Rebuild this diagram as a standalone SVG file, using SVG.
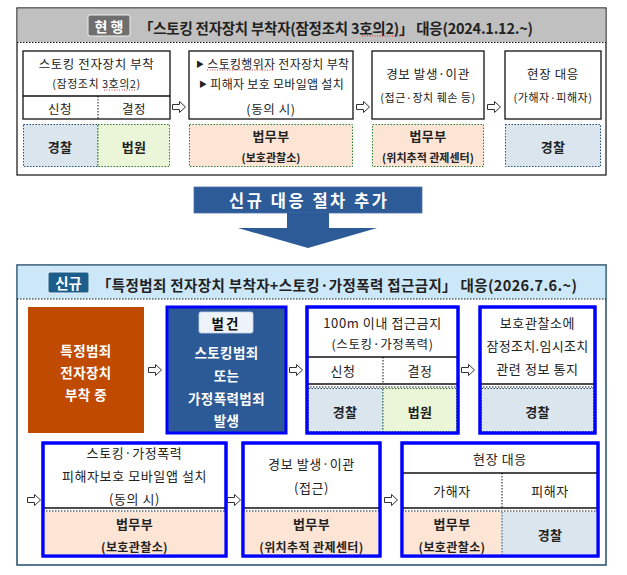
<svg xmlns="http://www.w3.org/2000/svg" width="627" height="575" viewBox="0 0 627 575">
<defs>
<style>
text{font-family:"Noto Sans CJK KR","Noto Sans",sans-serif;fill:#222;dominant-baseline:central;text-anchor:middle}
.t{font-size:12.5px;letter-spacing:0.6px}
.s{font-size:11px;letter-spacing:0.5px}
.b{font-size:13px;font-weight:bold;letter-spacing:0.4px}
.bs{font-size:11px;font-weight:bold}
.w{fill:#fff;font-weight:bold;font-size:13.5px;letter-spacing:0.4px}
.box{fill:#fff;stroke:#111;stroke-width:1.3}
.nbox{fill:#fff;stroke:#0000ff;stroke-width:3}
.ln{stroke:#111;stroke-width:1.3}
.dl{stroke:#111;stroke-width:1;stroke-dasharray:1.5,1.5}
.blue{fill:#dae5ee}
.green{fill:#ebf5d8}
.peach{fill:#fde5d6}
.cb{stroke:#1f4e79;stroke-width:1;stroke-dasharray:1.5,1.5}
.cg{stroke:#2a7a2a;stroke-width:1;stroke-dasharray:1.5,1.5}
.arr{fill:#fff;stroke:#333;stroke-width:1}
.sq{stroke:#e03030;stroke-width:1;stroke-dasharray:1,1.5;fill:none}
</style>
<path id="ar" d="M-6.5,-2.5 H0.5 V-5.5 L6.5,0 L0.5,5.5 V2.5 H-6.5 Z"/>
</defs>

<!-- TOP SECTION -->
<g id="current">
<rect x="17" y="8" width="589" height="167" fill="#fff" stroke="#222" stroke-width="1.3"/>
<rect x="17.6" y="8.6" width="587.8" height="33.4" fill="#c0c0c0"/>
<line x1="17" y1="42.5" x2="606" y2="42.5" class="dl"/>
<rect x="88" y="15" width="42" height="21" rx="2" fill="#6f6f6f" stroke="#eee" stroke-width="1"/>
<text x="109" y="25.5" style="fill:#fff;font-weight:bold;font-size:14px">현 행</text>
<text x="336" y="27" style="font-weight:bold;font-size:14.5px" textLength="394" lengthAdjust="spacing">「스토킹 전자장치 부착자(잠정조치 3호의2)」 대응(2024.1.12.~)</text>
<path class="sq" d="M362,36 H404"/>
</g>

<g id="a1">
<rect x="23" y="51" width="147" height="68" class="box"/>
<line x1="23" y1="96" x2="170" y2="96" class="ln"/>
<line x1="98" y1="96" x2="98" y2="119" class="dl"/>
<text x="96.5" y="63" class="t">스토킹 전자장치 부착</text>
<text x="96.5" y="83" class="s">(잠정조치 3호의2)</text>
<path class="sq" d="M104,90 H136"/>
<text x="60" y="108" class="t">신청</text>
<text x="134" y="108" class="t">결정</text>
<rect x="23.5" y="124.5" width="74.5" height="42" class="blue cb"/>
<rect x="98" y="124.5" width="71.5" height="42" class="green cg"/>
<text x="60" y="146" class="b">경찰</text>
<text x="134" y="146" class="b">법원</text>
</g>

<g id="a2">
<rect x="189" y="51" width="164" height="68" class="box"/>
<text x="196" y="63" class="t" style="text-anchor:start;font-size:12px;letter-spacing:0.3px"><tspan style="font-size:8px">▶</tspan> 스토킹행위자 전자장치 부착</text>
<path class="sq" d="M207,70 H274"/>
<text x="199" y="83" class="t" style="text-anchor:start;font-size:12px;letter-spacing:0.3px"><tspan style="font-size:8px">▶</tspan> 피해자 보호 모바일앱 설치</text>
<text x="271" y="108" class="t">(동의 시)</text>
<rect x="189.5" y="124.5" width="163" height="42" class="peach cg"/>
<text x="271" y="135" class="b">법무부</text>
<text x="271" y="157" class="bs">(보호관찰소)</text>
</g>

<g id="a3">
<rect x="372" y="51" width="112" height="68" class="box"/>
<text x="428" y="73" class="t">경보 발생·이관</text>
<text x="428" y="97" class="s">(접근·장치 훼손 등)</text>
<rect x="372.5" y="124.5" width="111" height="42" class="peach cg"/>
<text x="428" y="135" class="b">법무부</text>
<text x="428" y="157" class="bs">(위치추적 관제센터)</text>
</g>

<g id="a4">
<rect x="505" y="51" width="96" height="68" class="box"/>
<text x="553" y="73" class="t">현장 대응</text>
<text x="553" y="97" class="s">(가해자·피해자)</text>
<rect x="505.5" y="124.5" width="95" height="42" class="blue cb"/>
<text x="553" y="146" class="b">경찰</text>
</g>

<!-- BANNER -->
<g id="banner">
<rect x="194" y="187" width="228" height="26" fill="#2c5b98" stroke="#4a74b0" stroke-width="0.8"/>
<text x="308" y="200" style="fill:#fff;font-weight:bold;font-size:16.5px" textLength="158" lengthAdjust="spacing">신규 대응 절차 추가</text>
<rect x="287" y="213" width="42" height="15" fill="#2c5b98"/>
<polygon points="238,228 377,228 308,248" fill="#2c5b98"/>
</g>

<!-- BOTTOM SECTION -->
<g id="new">
<rect x="17" y="265" width="589" height="300" fill="#fff" stroke="#1f4e6b" stroke-width="1.5"/>
<rect x="17.8" y="265.8" width="587.4" height="33" fill="#cce7f8"/>
<line x1="17" y1="299" x2="606" y2="299" class="dl"/>
<rect x="48" y="272" width="41" height="21" rx="2" fill="#1b5e8c" stroke="#e8f0f6" stroke-width="1"/>
<text x="68.5" y="282.5" style="fill:#fff;font-weight:bold;font-size:14.5px">신규</text>
<text x="337" y="284" style="font-weight:bold;font-size:14.5px" textLength="480" lengthAdjust="spacing">「특정범죄 전자장치 부착자+스토킹·가정폭력 접근금지」 대응(2026.7.6.~)</text>
</g>

<g id="b1">
<rect x="28" y="307" width="116" height="126" fill="#bf4a00"/>
<text x="86" y="350" class="w">특정범죄</text>
<text x="86" y="372" class="w">전자장치</text>
<text x="86" y="394" class="w">부착 중</text>
</g>

<g id="b2">
<rect x="167" y="307" width="119" height="126" fill="#2c5a96" stroke="#0000ff" stroke-width="3"/>
<rect x="199" y="312" width="54" height="21" rx="2" fill="#eef3fa" stroke="#c8d4e4" stroke-width="0.8"/>
<text x="226" y="322.5" style="font-weight:bold;font-size:13.5px;fill:#111;letter-spacing:2px">벌건</text>
<text x="226.5" y="352" class="w">스토킹범죄</text>
<text x="226.5" y="375" class="w">또는</text>
<text x="226.5" y="398" class="w">가정폭력범죄</text>
<text x="226.5" y="420" class="w">발생</text>
</g>

<g id="b3">
<rect x="307" y="307" width="151" height="126" class="nbox"/>
<text x="382.5" y="322" class="t" style="font-size:13px">100m 이내 접근금지</text>
<text x="382.5" y="343" class="t">(스토킹·가정폭력)</text>
<line x1="307" y1="357" x2="458" y2="357" class="ln"/>
<line x1="383" y1="357" x2="383" y2="384" class="dl"/>
<text x="343" y="370" class="t" style="font-size:13px">신청</text>
<text x="420" y="370" class="t" style="font-size:13px">결정</text>
<line x1="307" y1="384" x2="458" y2="384" class="ln"/>
<line x1="307" y1="387" x2="458" y2="387" class="dl"/>
<rect x="308.5" y="388.5" width="74.5" height="43" class="blue cb"/>
<rect x="383" y="388.5" width="73.5" height="43" class="green cg"/>
<text x="345" y="411" class="b">경찰</text>
<text x="420" y="411" class="b">법원</text>
<rect x="307" y="307" width="151" height="126" fill="none" stroke="#0000ff" stroke-width="3"/>
</g>

<g id="b4">
<rect x="480" y="307" width="115" height="126" class="nbox"/>
<text x="537.5" y="322" class="t" style="font-size:13px">보호관찰소에</text>
<text x="537.5" y="345" class="t" style="font-size:13px;letter-spacing:0.3px">잠정조치.임시조치</text>
<text x="537.5" y="368" class="t" style="font-size:13px">관련 정보 통지</text>
<line x1="480" y1="384" x2="595" y2="384" class="ln"/>
<line x1="480" y1="387" x2="595" y2="387" class="dl"/>
<rect x="481.5" y="388.5" width="112" height="43" class="blue cb"/>
<text x="537.5" y="411" class="b">경찰</text>
<rect x="480" y="307" width="115" height="126" fill="none" stroke="#0000ff" stroke-width="3"/>
</g>

<g id="b5">
<rect x="43" y="443" width="183" height="113" class="nbox"/>
<text x="134.5" y="452" class="t" style="font-size:13px">스토킹·가정폭력</text>
<text x="134.5" y="475" class="t" style="font-size:13px">피해자보호 모바일앱 설치</text>
<text x="134.5" y="498" class="t" style="font-size:13px">(동의 시)</text>
<line x1="43" y1="508" x2="226" y2="508" class="ln"/>
<line x1="43" y1="511" x2="226" y2="511" class="dl"/>
<rect x="44.5" y="512" width="180" height="42.5" class="peach"/>
<text x="134.5" y="523" class="b">법무부</text>
<text x="134.5" y="546" class="b" style="font-size:12px">(보호관찰소)</text>
<rect x="43" y="443" width="183" height="113" fill="none" stroke="#0000ff" stroke-width="3"/>
</g>

<g id="b6">
<rect x="243" y="443" width="137" height="113" class="nbox"/>
<text x="311.5" y="463" class="t" style="font-size:13px">경보 발생·이관</text>
<text x="311.5" y="487" class="t" style="font-size:13px">(접근)</text>
<line x1="243" y1="508" x2="380" y2="508" class="ln"/>
<line x1="243" y1="511" x2="380" y2="511" class="dl"/>
<rect x="244.5" y="512" width="134" height="42.5" class="peach"/>
<text x="311.5" y="523" class="b">법무부</text>
<text x="311.5" y="546" class="b" style="font-size:12px">(위치추적 관제센터)</text>
<rect x="243" y="443" width="137" height="113" fill="none" stroke="#0000ff" stroke-width="3"/>
</g>

<g id="b7">
<rect x="402" y="443" width="196" height="113" class="nbox"/>
<text x="500" y="458" class="t" style="font-size:13px">현장 대응</text>
<line x1="402" y1="473" x2="598" y2="473" class="ln"/>
<line x1="502" y1="473" x2="502" y2="508" class="dl"/>
<text x="452" y="490" class="t" style="font-size:13px">가해자</text>
<text x="550" y="490" class="t" style="font-size:13px">피해자</text>
<line x1="402" y1="508" x2="598" y2="508" class="ln"/>
<line x1="402" y1="511" x2="598" y2="511" class="dl"/>
<rect x="403.5" y="512" width="98.5" height="42.5" class="peach"/>
<rect x="502" y="512" width="94.5" height="42.5" class="blue"/>
<line x1="502" y1="512" x2="502" y2="555" class="cb"/>
<text x="452" y="523" class="b">법무부</text>
<text x="452" y="546" class="b" style="font-size:12px">(보호관찰소)</text>
<text x="550" y="534" class="b">경찰</text>
<rect x="402" y="443" width="196" height="113" fill="none" stroke="#0000ff" stroke-width="3"/>
</g>

<g id="connectors" class="arr">
<use href="#ar" x="179" y="107"/>
<use href="#ar" x="363" y="107"/>
<use href="#ar" x="494" y="107"/>
<use href="#ar" x="155" y="370"/>
<use href="#ar" x="296" y="370"/>
<use href="#ar" x="468" y="370"/>
<use href="#ar" x="34" y="500"/>
<use href="#ar" x="234" y="500"/>
<use href="#ar" x="391" y="500"/>
</g>
</svg>
